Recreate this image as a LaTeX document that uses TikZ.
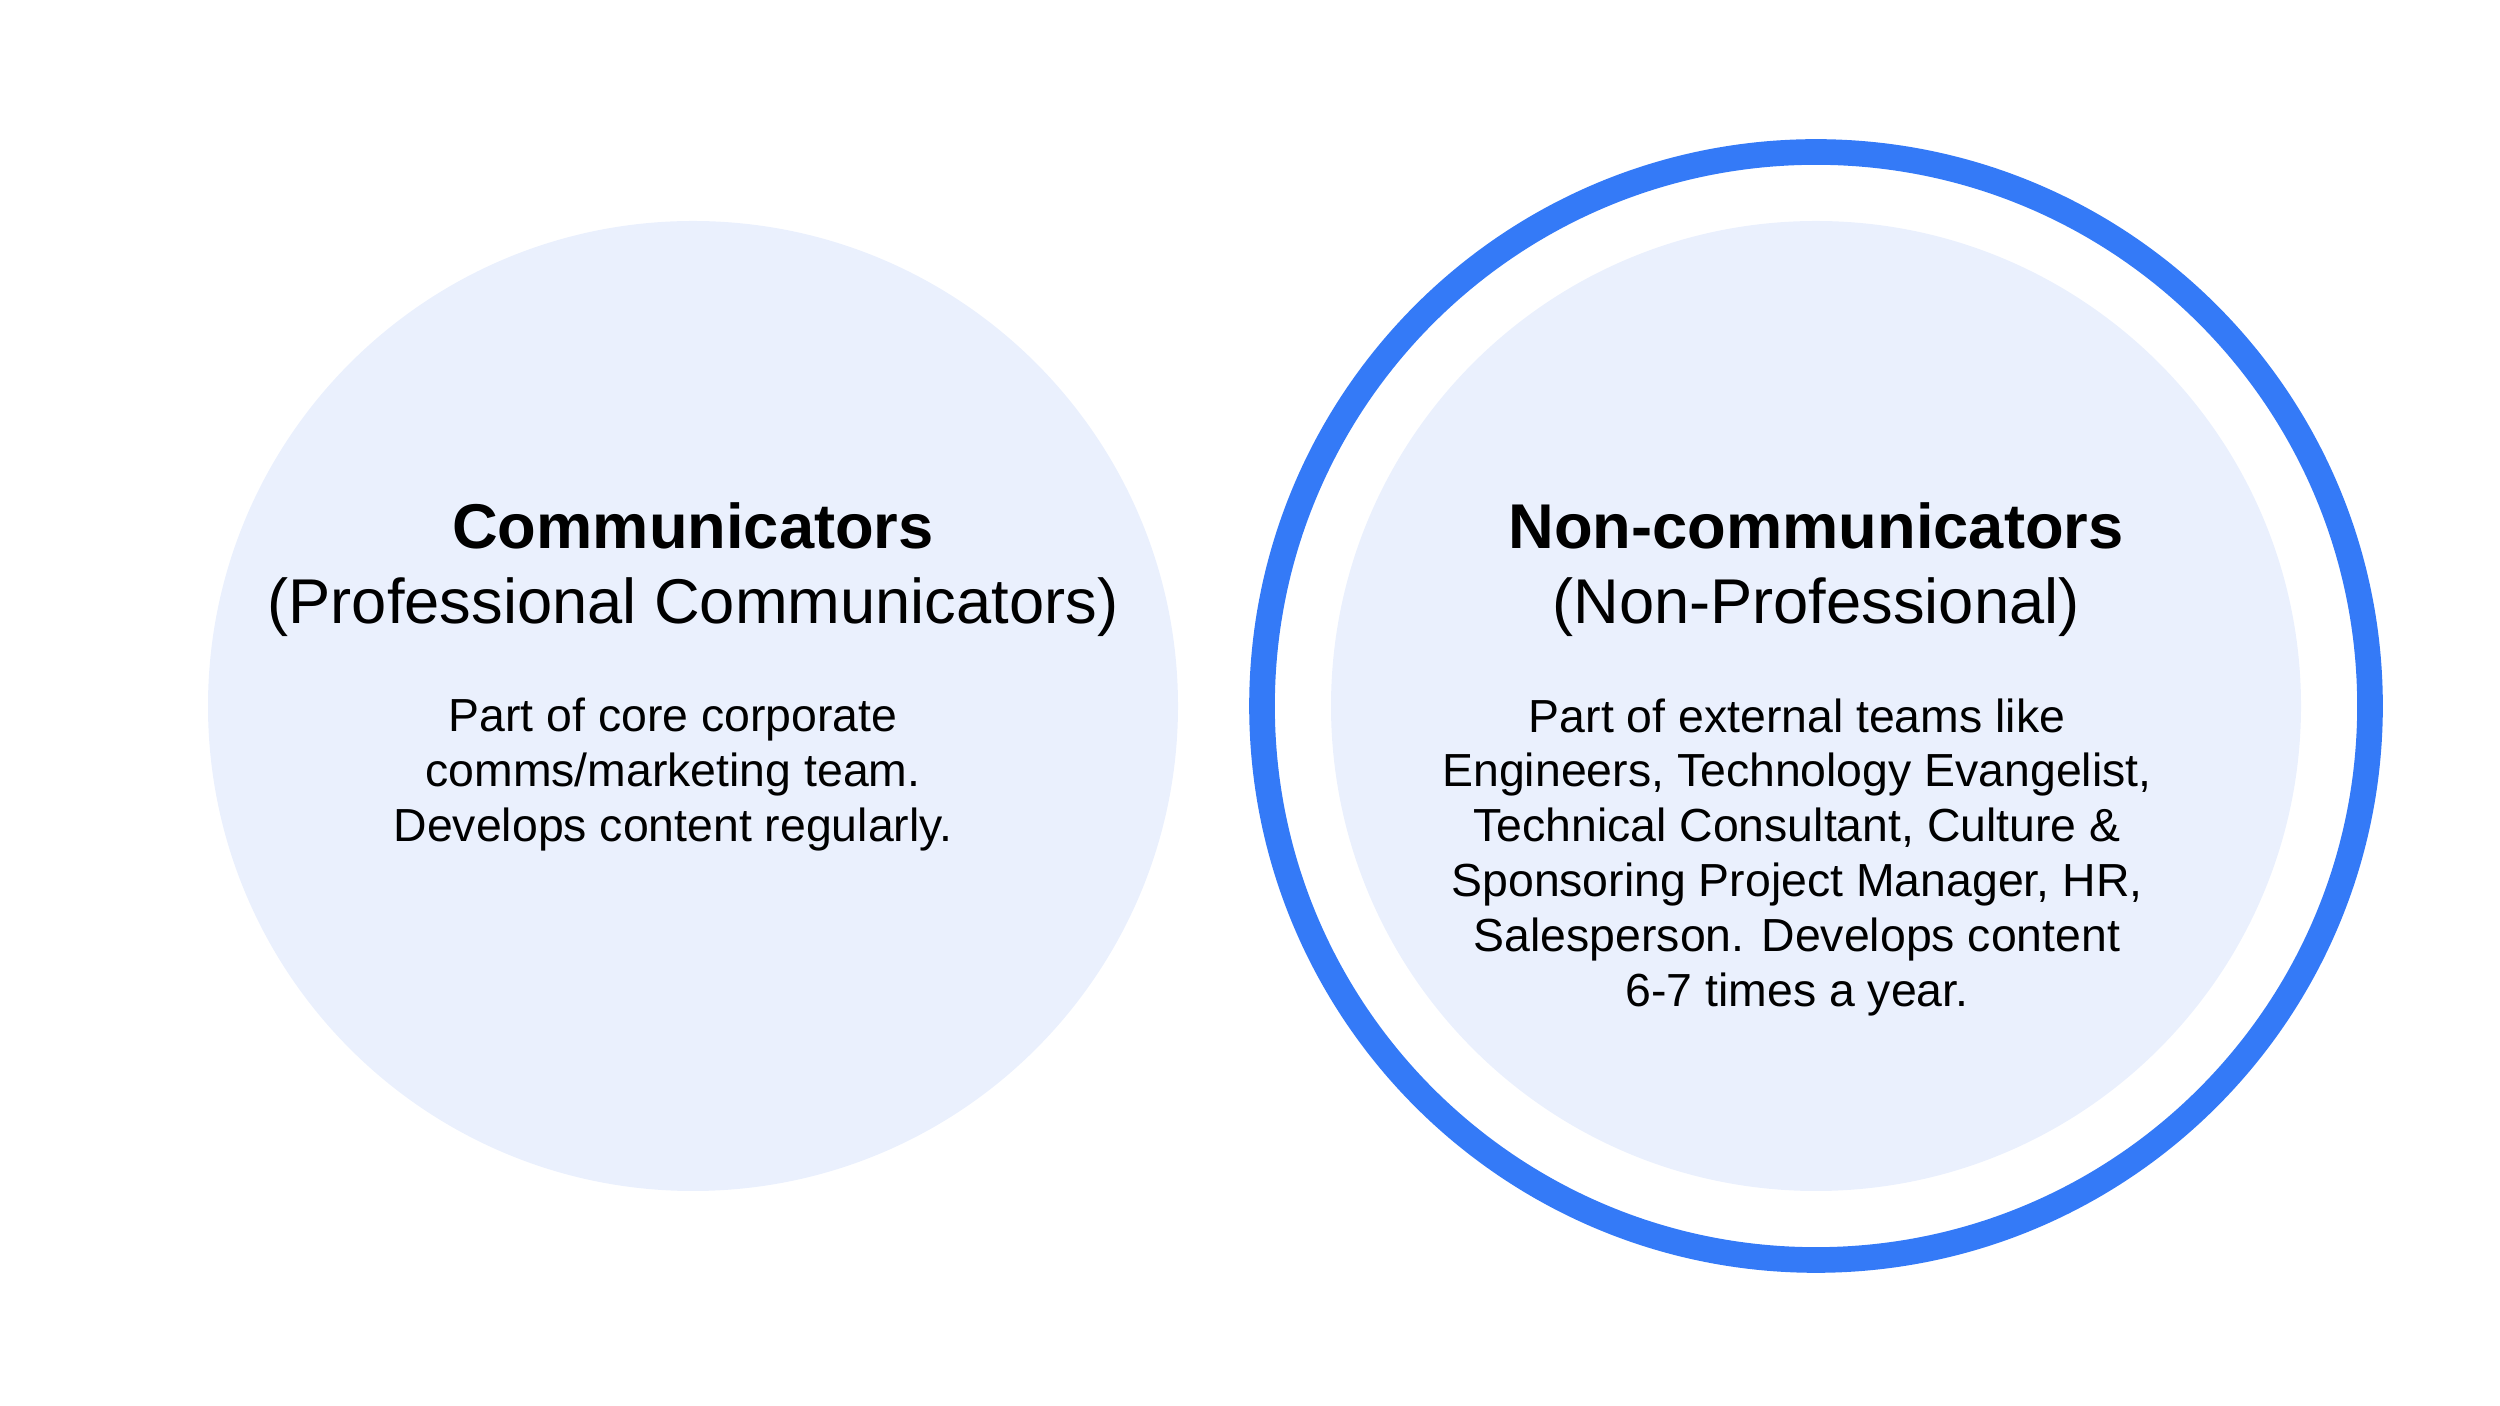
\documentclass[tikz,border=0pt]{standalone}
\usepackage{fontspec}
\setmainfont{Liberation Sans}
\usetikzlibrary{positioning}
\definecolor{paleblue}{HTML}{EAF0FD}
\definecolor{ringblue}{HTML}{347AF7}
\tikzset{
  disc/.style = {circle, fill=paleblue, minimum size=9.7cm, inner sep=0pt},
  title/.style = {align=center, font=\fontsize{18}{21.5}\selectfont},
  body/.style = {align=center, font=\fontsize{13.2}{15.6}\selectfont}
}
\begin{document}
\begin{tikzpicture}
  \useasboundingbox (0,0) rectangle (25,14.06);
  % left group
  \node[disc] (comm) at (6.93,7.00) {};
  \node[title, anchor=base] (commtitle) at (6.93,7.82) {\textbf{Communicators}\\(Professional Communicators)};
  \node[body, anchor=north] (commtext) at (6.73,7.20) {Part of core corporate\\comms/marketing team.\\Develops content regularly.};
  % right group
  \node[disc] (noncomm) at (18.16,7.00) {};
  \draw[ringblue, line width=7.3pt] (noncomm.center) circle (5.54);
  \node[title, anchor=base] (noncommtitle) at (18.16,7.82) {\textbf{Non-communicators}\\(Non-Professional)};
  \node[body, anchor=north] (noncommtext) at (17.97,7.20) {Part of external teams like\\Engineers, Technology Evangelist,\\Technical Consultant, Culture \&\\Sponsoring Project Manager, HR,\\Salesperson. Develops content\\6-7 times a year.};
\end{tikzpicture}
\end{document}
